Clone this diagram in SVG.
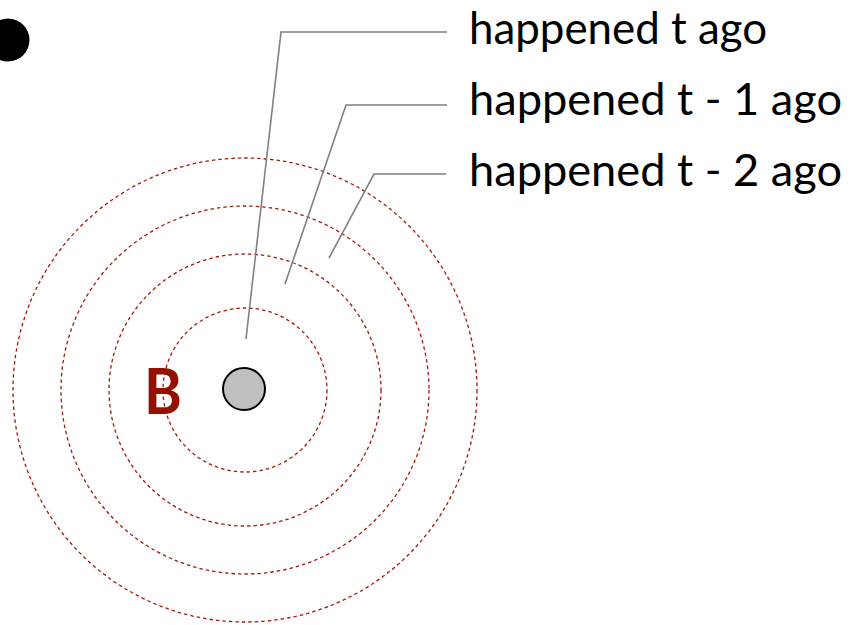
<svg xmlns="http://www.w3.org/2000/svg" width="854" height="625" viewBox="0 0 854 625">
<style>
.ring{fill:none;stroke:#a3190c;stroke-width:1.3;stroke-dasharray:3.5 3}
.lead{fill:none;stroke:#808080;stroke-width:1.6}
.lbl{font-family:Lato,"Liberation Sans",sans-serif;font-size:45px;fill:#000}
</style>
<rect width="854" height="625" fill="#fff"/>
<g id="rings">
<circle class="ring" cx="245" cy="390" r="82"/>
<circle class="ring" cx="245" cy="390" r="136"/>
<circle class="ring" cx="245" cy="390" r="184"/>
<circle class="ring" cx="245" cy="390" r="232"/>
</g>
<g id="dot"><circle cx="8" cy="40" r="21.5" fill="#000"/></g>
<g id="center"><circle cx="244" cy="389" r="21" fill="#c0c0c0" stroke="#000" stroke-width="2"/></g>
<g id="B"><text x="144" y="414" font-family="Lato,'Liberation Sans',sans-serif" font-size="64" font-weight="bold" fill="#941100" textLength="38" lengthAdjust="spacingAndGlyphs">B</text></g>
<g id="connectors">
<polyline class="lead" points="246,339 281,32 447,32"/>
<polyline class="lead" points="285,284 346,105 447,105"/>
<polyline class="lead" points="329,258 374,174 446,174"/>
</g>
<g id="label1"><text class="lbl" x="469" y="44" textLength="298" lengthAdjust="spacingAndGlyphs">happened t ago</text></g>
<g id="label2"><text class="lbl" x="469" y="115" textLength="373" lengthAdjust="spacingAndGlyphs">happened t - 1 ago</text></g>
<g id="label3"><text class="lbl" x="469" y="186" textLength="373" lengthAdjust="spacingAndGlyphs">happened t - 2 ago</text></g>
</svg>
